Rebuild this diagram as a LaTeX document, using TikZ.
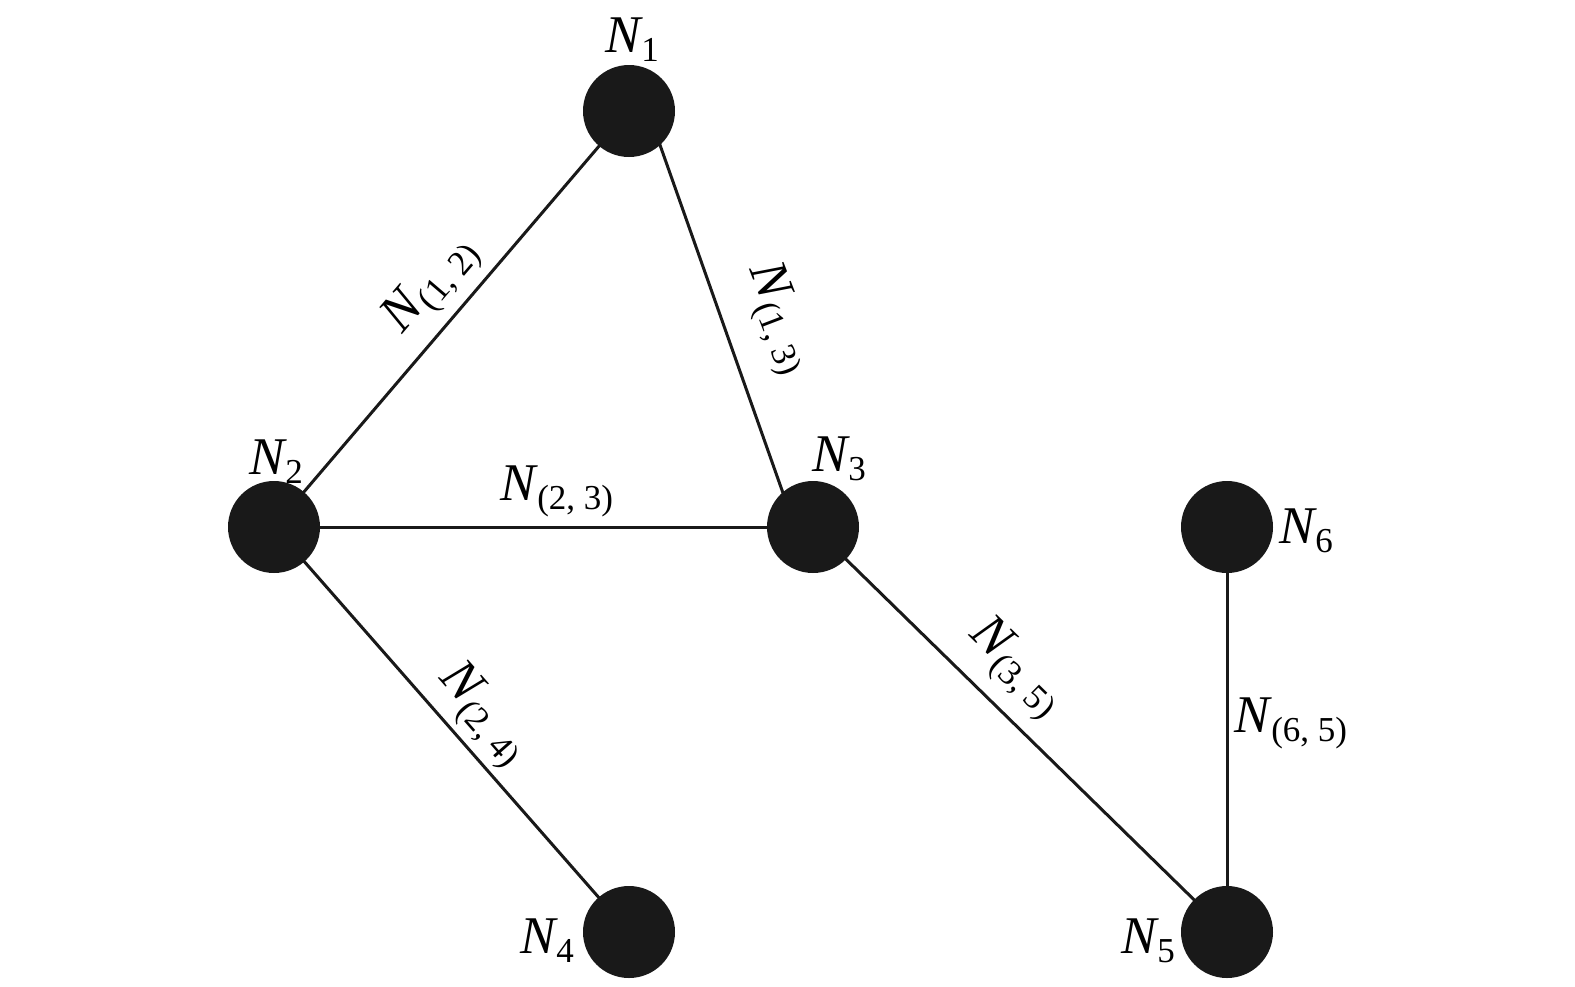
\documentclass[tikz,border=0pt]{standalone}
\usepackage{fontspec}
\setmainfont{Liberation Serif}
\usetikzlibrary{calc}
\pgfdeclarelayer{bg}
\pgfsetlayers{bg,main}
\newcommand{\Nlab}[1]{{\itshape N}\kern0.5pt\raisebox{-4.5pt}{\fontsize{17.5}{17.5}\selectfont #1}}
\begin{document}
\begin{tikzpicture}[x=0.5pt,y=-0.5pt,
  vtx/.style={circle,fill=black!90,draw=none,minimum size=46pt,inner sep=0pt},
  edge/.style={line width=1.5pt,black!90},
  lab/.style={inner sep=0pt,font=\fontsize{26.5}{26.5}\selectfont}]
\useasboundingbox (0,0) rectangle (1575,986);
\node[vtx] (n1) at (629,111) {};
\node[vtx] (n2) at (274,527) {};
\node[vtx] (n3) at (813,527) {};
\node[vtx] (n4) at (629,932) {};
\node[vtx] (n5) at (1227,932) {};
\node[vtx] (n6) at (1227,527) {};
\begin{pgfonlayer}{bg}
\draw[edge] (n2.center) -- (n1.center);
\draw[edge] ($(n1.center)+(19,0)$) -- ($(n3.center)+(-18,0)$);
\draw[edge] (n2.center) -- (n3.center);
\draw[edge] (n2.center) -- (n4.center);
\draw[edge] (n3.center) -- (n5.center);
\draw[edge] (n6.center) -- (n5.center);
\end{pgfonlayer}
\node[lab] (l1) at (632,40) {\Nlab{1}};
\node[lab] (l2) at (276,462) {\Nlab{2}};
\node[lab] (l3) at (839,459) {\Nlab{3}};
\node[lab] (l4) at (547,941) {\Nlab{4}};
\node[lab] (l5) at (1148,941) {\Nlab{5}};
\node[lab] (l6) at (1306,531) {\Nlab{6}};
\node[lab,rotate=49.5] (l12) at (432,286) {\Nlab{(1, 2)}};
\node[lab,rotate=-69] (l13) at (778,319) {\Nlab{(1, 3)}};
\node[lab] (l23) at (557,491) {\Nlab{(2, 3)}};
\node[lab,rotate=-48.8] (l24) at (482,715) {\Nlab{(2, 4)}};
\node[lab,rotate=-44.4] (l35) at (1015,668) {\Nlab{(3, 5)}};
\node[lab] (l65) at (1291,723) {\Nlab{(6, 5)}};
\end{tikzpicture}
\end{document}
